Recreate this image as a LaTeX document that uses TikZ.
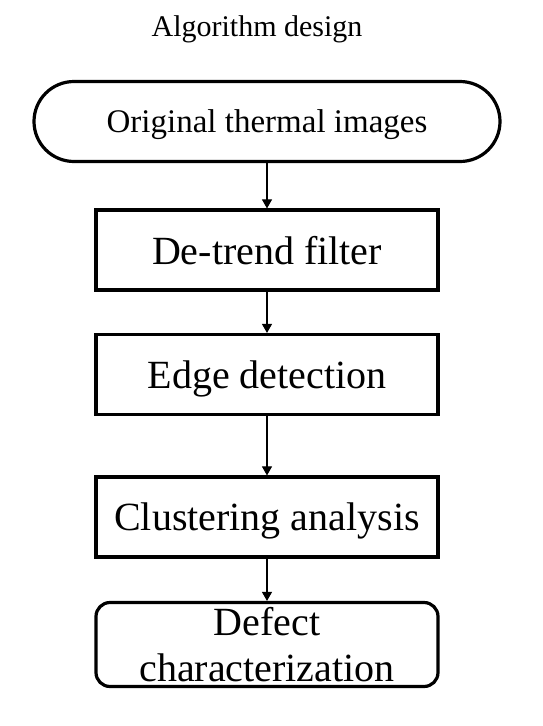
\documentclass[tikz,border=0pt]{standalone}
\usepackage{fontspec}
\setmainfont{Liberation Serif}
\usetikzlibrary{arrows.meta}
\begin{document}
\begin{tikzpicture}[x=1pt,y=-1pt,
  procbox/.style={draw, line width=3.2pt, minimum width=342pt, minimum height=80pt, inner sep=0pt, text depth=0pt, font=\fontsize{40}{46}\selectfont},
  arr/.style={-{Triangle[width=10pt,length=9pt]}, line width=1.1pt}]
\useasboundingbox (0,0) rectangle (542,726);
\node[text depth=0pt, inner sep=0pt] (title) at (257,26.2) {\fontsize{30}{34}\selectfont Algorithm design};
\node[draw, line width=3.2pt, minimum width=466pt, minimum height=80pt, rounded corners=40pt, inner sep=0pt, text depth=0pt, font=\fontsize{33}{38}\selectfont] (start) at (267,121.5) {Original thermal images};
\node[procbox] (b1) at (267,250) {De-trend filter};
\node[procbox] (b2) at (267,374.5) {Edge detection};
\node[procbox] (b3) at (267,517) {Clustering analysis};
\node[procbox, minimum height=84pt, rounded corners=14pt, align=center] (b4) at (267,644.5) {Defect\\characterization};
\draw[arr] (start) -- (b1);
\draw[arr] (b1) -- (b2);
\draw[arr] (b2) -- (b3);
\draw[arr] (b3) -- (b4);
\end{tikzpicture}
\end{document}
